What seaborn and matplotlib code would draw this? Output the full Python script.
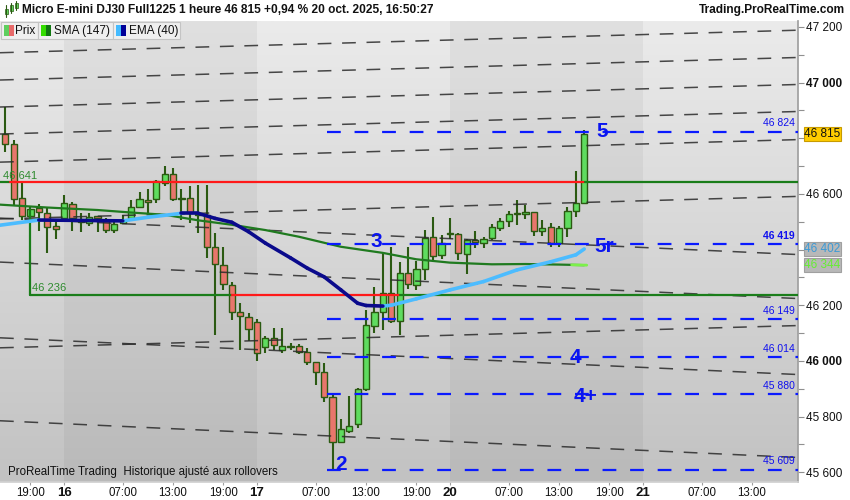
import numpy as np
import pandas as pd
import matplotlib
matplotlib.use("Agg")
import matplotlib.pyplot as plt
from matplotlib.patches import Rectangle
from matplotlib.colors import LinearSegmentedColormap
import seaborn as sns

sns.set_theme(style="white")
plt.rcParams['font.family'] = ['Liberation Sans', 'DejaVu Sans']

# ---------------------------------------------------------------
# Data (hourly bars, index 0 = 15 oct 16:00)
# ---------------------------------------------------------------
opens = [46814, 46778, 46584, 46522, 46548, 46530, 46485, 46512, 46564, 46502,
         46495, 46519, 46504, 46470, 46497, 46512, 46554, 46578, 46581, 46640,
         46671, 46582, 46584, 46528, 46524, 46410, 46345, 46273, 46175, 46157,
         46139, 46051, 46084, 46040, 46055, 46055, 46033, 45997, 45959, 45870,
         45708, 45749, 45773, 45898, 46127, 46175, 46243, 46145, 46317, 46273,
         46329, 46444, 46380, 46455, 46456, 46384, 46434, 46425, 46440, 46476,
         46503, 46526, 46526, 46534, 46468, 46480, 46422, 46476, 46540, 46566]
highs = [46913, 46793, 46646, 46553, 46564, 46552, 46506, 46596, 46570, 46531,
         46531, 46521, 46512, 46500, 46524, 46578, 46608, 46618, 46650, 46700,
         46692, 46616, 46628, 46632, 46632, 46460, 46410, 46284, 46208, 46172,
         46150, 46090, 46117, 46117, 46065, 46060, 46047, 45997, 45992, 45884,
         45792, 45874, 45902, 46183, 46267, 46386, 46410, 46356, 46410, 46360,
         46470, 46516, 46452, 46513, 46459, 46437, 46468, 46446, 46492, 46512,
         46540, 46578, 46560, 46536, 46506, 46494, 46485, 46554, 46683, 46829]
lows = [46751, 46556, 46506, 46510, 46468, 46387, 46437, 46500, 46467, 46464,
        46485, 46464, 46461, 46461, 46492, 46506, 46552, 46531, 46567, 46628,
        46575, 46506, 46494, 46458, 46370, 46093, 46255, 46147, 46040, 46070,
        46000, 46030, 46040, 46030, 46040, 46025, 45985, 45914, 45854, 45609,
        45705, 45742, 45758, 45893, 46099, 46111, 46135, 46093, 46260, 46255,
        46290, 46363, 46365, 46437, 46363, 46312, 46404, 46404, 46434, 46468,
        46480, 46488, 46509, 46449, 46449, 46410, 46410, 46446, 46518, 46563]
closes = [46778, 46581, 46520, 46544, 46536, 46482, 46473, 46566, 46512, 46498,
          46516, 46514, 46470, 46492, 46506, 46554, 46582, 46571, 46646, 46671,
          46581, 46580, 46532, 46523, 46410, 46347, 46276, 46177, 46162, 46115,
          46030, 46084, 46057, 46052, 46050, 46033, 45995, 45959, 45870, 45708,
          45755, 45767, 45898, 46129, 46175, 46243, 46145, 46317, 46275, 46329,
          46440, 46377, 46423, 46455, 46387, 46434, 46427, 46439, 46480, 46503,
          46528, 46530, 46534, 46468, 46476, 46422, 46476, 46538, 46566, 46815]

sma_bars = [-1, 5, 11, 15, 19, 23, 27, 31, 35, 40, 45, 49, 53, 58, 62, 66, 69]
sma_vals = [46562, 46551, 46542, 46533, 46525, 46505, 46489, 46470, 46446, 46410,
            46388, 46365, 46353, 46347, 46348, 46346, 46344]

ema_bars = [-1, 4, 8, 11, 14, 17, 21, 23, 25, 27, 29, 31, 34, 36, 38, 40, 42, 43,
            45, 46, 49, 53, 57, 61, 65, 68, 69]
ema_vals = [46486, 46506, 46505, 46504, 46503, 46516, 46530, 46530, 46512, 46498,
            46464, 46423, 46370, 46333, 46302, 46255, 46207, 46199, 46197, 46200,
            46223, 46255, 46285, 46327, 46356, 46381, 46402]

# target levels (blue dashed)
levels = [46824, 46419, 46149, 46014, 45880, 45609]
level_labels = ['46 824', '46 419', '46 149', '46 014', '45 880', '45 609']
level_start = 39

wave_texts = ['5', '5r', '3', '4', '4+', '2']
wave_bars = [70.5, 70.2, 43.5, 67.3, 67.7, 39.3]
wave_prices = [46804, 46391, 46409, 45993, 45853, 45609]

# diagonal dashed lines: price at left edge / right edge
rise_left = [47107, 47009, 46912, 46815, 46714, 46510, 46047]
rise_right = [47188, 47090, 46993, 46896, 46795, 46591, 46127]
fall_left = [46513, 46355, 46083, 45785]
fall_right = [46382, 46224, 45951, 45653]

tick_bars = [3, 7, 14, 20, 26, 30, 37, 43, 49, 53, 60, 66, 72, 76, 83, 89]
tick_labels = ['19:00', '16', '07:00', '13:00', '19:00', '17', '07:00', '13:00',
               '19:00', '20', '07:00', '13:00', '19:00', '21', '07:00', '13:00']
day_labels = ['16', '17', '20', '21']

xmin, xmax = -0.63, 94.48
ymin, ymax = 45565, 47221

# ---------------------------------------------------------------
fig = plt.figure(figsize=(8.5, 5), dpi=100)
fig.patch.set_facecolor('white')
ax = fig.add_axes([0, 18 / 500, 798 / 850, 461 / 500])

# background gradient + alternating day shading
grad = np.linspace(0, 1, 256).reshape(-1, 1)
bg_cmap = LinearSegmentedColormap.from_list('bg', ['#c2c2c2', '#ebebeb'])
ax.imshow(grad, extent=[xmin, xmax, ymin, ymax], origin='lower', cmap=bg_cmap,
          aspect='auto', zorder=0)
for a, b in [(7, 30), (53, 76)]:
    ax.axvspan(a, b, color='black', alpha=0.045, lw=0, zorder=0.5)

# candles
df = pd.DataFrame({'bar': np.arange(len(opens)), 'open': opens, 'high': highs,
                   'low': lows, 'close': closes})
df['up'] = df['close'] >= df['open']
edge = '#2b5a12'
ax.vlines(df['bar'], df['low'], df['high'], color=edge, lw=1.5, zorder=2)
body_low = np.minimum(df['open'], df['close'])
body_h = np.maximum((df['close'] - df['open']).abs(), 4)
ax.bar(df['bar'], body_h, bottom=body_low, width=0.74,
       color=np.where(df['up'], '#5fdc5f', '#e8766c'), edgecolor=edge,
       linewidth=1.0, zorder=2.5)

# diagonal dashed lines
for l, r in zip(rise_left + fall_left, rise_right + fall_right):
    ax.plot([xmin, xmax], [l, r], color='#2a2a2a', lw=1.1, dashes=(9, 7),
            alpha=0.85, zorder=3)

# support / resistance drawings
ax.plot([xmin, 0.6], [46641, 46641], color='#1a7d1a', lw=1.6, zorder=3.2)
ax.plot([0.6, 69.1], [46641, 46641], color='#ff1a1a', lw=1.6, zorder=3.2)
ax.plot([69.1, xmax], [46641, 46641], color='#1a7d1a', lw=1.6, zorder=3.2)
ax.plot([2.95, 2.95], [46545, 46236], color='#1a7d1a', lw=1.6, zorder=3.2)
ax.plot([2.95, 27], [46236, 46236], color='#1a7d1a', lw=1.6, zorder=3.2)
ax.plot([27, 47], [46236, 46236], color='#ff1a1a', lw=1.6, zorder=3.2)
ax.plot([47, xmax], [46236, 46236], color='#1a7d1a', lw=1.6, zorder=3.2)
ax.text(-0.3, 46648, '46 641', color='#2e8b2e', fontsize=8, ha='left', va='bottom', zorder=6)
ax.text(3.2, 46243, '46 236', color='#2e8b2e', fontsize=8, ha='left', va='bottom', zorder=6)

# SMA 147
sns.lineplot(x=sma_bars, y=sma_vals, ax=ax, color='#1f7a1f', lw=1.6, zorder=4)
ax.plot([67.5, 69.3], [46345, 46344], color='#7cf04a', lw=2, zorder=4.1)

# EMA 40 coloured by direction
segs = []
for k in range(len(ema_bars) - 1):
    d = 'up' if ema_vals[k + 1] > ema_vals[k] else 'down'
    segs.append({'seg': k, 'bar': ema_bars[k], 'ema': ema_vals[k], 'dir': d})
    segs.append({'seg': k, 'bar': ema_bars[k + 1], 'ema': ema_vals[k + 1], 'dir': d})
ema_df = pd.DataFrame(segs)
sns.lineplot(data=ema_df, x='bar', y='ema', hue='dir', units='seg', estimator=None,
             palette={'up': '#4cbcff', 'down': '#0a0a8c'}, lw=2.6, legend=False,
             ax=ax, zorder=4.5)
for line in ax.get_lines()[-len(segs) // 2:]:
    line.set_solid_capstyle('round')

# blue dashed levels
for lv, lab in zip(levels, level_labels):
    ax.plot([level_start - 0.7, xmax], [lv, lv], color='#0a1aff', lw=1.6,
            dashes=(6.2, 6.2), zorder=5)
    ax.text(94.1, lv + 12, lab, color='#1010ee', fontsize=7.5, ha='right', va='bottom',
            fontweight='bold' if lab == '46 419' else 'normal', zorder=6)

for t, b, p in zip(wave_texts, wave_bars, wave_prices):
    ax.text(b, p, t, color='#0a14f0', fontsize=15, fontweight='bold',
            ha='left', va='baseline', zorder=6)

ax.text(0.3, 45600, 'ProRealTime Trading  Historique ajusté aux rollovers',
        fontsize=8.3, color='#111111', ha='left', va='center', zorder=6)

# axes cosmetics
ax.set_xlim(xmin, xmax)
ax.set_ylim(ymin, ymax)
ax.set_xlabel('')
ax.set_ylabel('')
for s in ['top', 'left']:
    ax.spines[s].set_visible(False)
ax.spines['right'].set_color('#a0a0a0')
ax.spines['bottom'].set_color('#d0d0d0')

ax.yaxis.tick_right()
major = [45600, 45800, 46000, 46200, 46600, 47000, 47200]
ax.set_yticks(major)
ax.set_yticklabels([f"{v:,}".replace(',', ' ') for v in major])
ax.set_yticks([45700, 45900, 46100, 46300, 46400, 46500, 46700, 46800, 46900, 47100],
              minor=True)
ax.tick_params(axis='y', which='both', direction='out', length=4, width=0.8,
               color='#909090', pad=2, labelsize=8.5, labelcolor='#111111', right=True)
for t in ax.get_yticklabels():
    if t.get_text() in ('46 000', '47 000'):
        t.set_fontweight('bold')

ax.set_xticks(tick_bars)
ax.set_xticklabels(tick_labels)
ax.tick_params(axis='x', direction='out', length=2, width=0.8, color='#a0a0a0',
               pad=1.5, labelsize=8.3, labelcolor='#111111', bottom=True)
for t in ax.get_xticklabels():
    if t.get_text() in day_labels:
        t.set_fontweight('bold')
        t.set_fontsize(9.5)

# price boxes on the axis
ytr = ax.get_yaxis_transform()
boxes = [(46815, '46 815', '#111111', '#ffcc00', '#c89b00'),
         (46402, '46 402', '#3b9ad6', '#b8b8b8', '#a0a0a0'),
         (46344, '46 344', '#66ee33', '#b8b8b8', '#a0a0a0')]
for val, txt, tc, fc, ec in boxes:
    ax.text(1.008, val, txt, transform=ytr, ha='left', va='center', fontsize=8.5,
            color=tc, clip_on=False,
            bbox=dict(boxstyle='square,pad=0.06', fc=fc, ec=ec, lw=0.8))

# header
fig.text(22 / 850, 1 - 10 / 500,
         'Micro E-mini DJ30 Full1225 1 heure 46 815 +0,94 % 20 oct. 2025, 16:50:27',
         fontsize=8.6, fontweight='bold', ha='left', va='center', color='#111111')
fig.text(845 / 850, 1 - 10 / 500, 'Trading.ProRealTime.com', fontsize=8.6,
         fontweight='bold', ha='right', va='center', color='#111111')


def px_rect(x, y, w, h, **kw):
    fig.add_artist(Rectangle((x / 850, 1 - (y + h) / 500), w / 850, h / 500,
                             transform=fig.transFigure, **kw))


# small candlestick icon
for cx, top, bot, wt, wb in [(6, 9, 14, 5, 17), (11, 5, 11, 3, 13), (16, 3, 8, 1, 10)]:
    fig.add_artist(plt.Line2D([cx / 850, cx / 850], [1 - wt / 500, 1 - wb / 500],
                              transform=fig.transFigure, color='#2b5a12', lw=0.8))
    px_rect(cx - 1.5, top, 3, bot - top, fc='#5fdc5f', ec='#2b5a12', lw=0.5)

# legend strip
leg = [(1, 37, 'Prix', ('#5fcf5f', '#e86a6a'), 15),
       (38, 75, 'SMA (147)', ('#33dd00', '#117711'), 54),
       (113, 67, 'EMA (40)', ('#44bbff', '#000099'), 129)]
for x, w, txt, cols, tx in leg:
    px_rect(x, 22, w, 17, fc='#efefef', ec='#c4c4c4', lw=0.8)
    px_rect(x + 3, 25, 5, 11, fc=cols[0], ec='none')
    px_rect(x + 8, 25, 5, 11, fc=cols[1], ec='none')
    fig.text(tx / 850, 1 - 31 / 500, txt, fontsize=8.5, ha='left', va='center',
             color='#111111')

fig.savefig('out.png', dpi=100)
